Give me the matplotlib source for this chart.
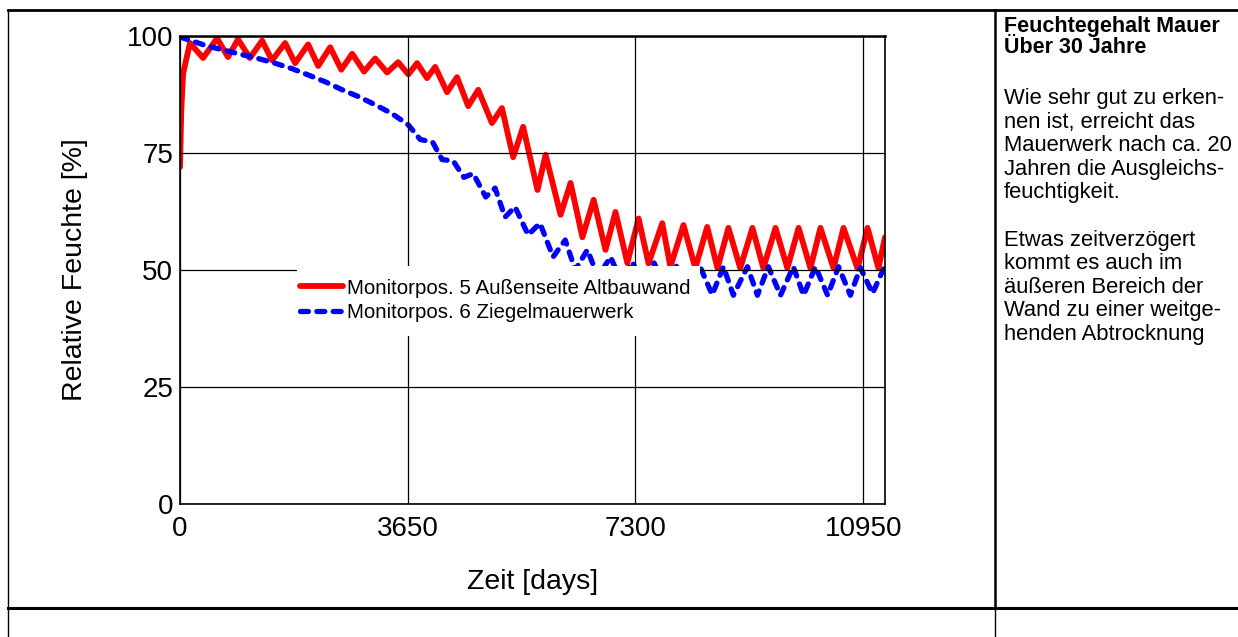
import matplotlib
matplotlib.use("Agg")
import matplotlib.pyplot as plt
from matplotlib.lines import Line2D
from matplotlib.patches import Rectangle

plt.rcParams['font.family'] = ['Liberation Sans', 'DejaVu Sans']

# Relative Feuchte [%] über die Zeit [days]
red_days = [0, 20, 50, 100, 160, 370, 594, 770, 930, 1120, 1316, 1475, 1685, 1845, 2054,
            2215, 2407, 2585, 2760, 2950, 3128, 3320, 3497, 3660, 3800,
            3960, 4090, 4280, 4440, 4620, 4780, 5000, 5160, 5340, 5500,
            5730, 5860, 6100, 6260, 6450, 6630, 6820, 6980, 7170, 7350,
            7510, 7730, 7860, 8070, 8260, 8450, 8615, 8790, 8980, 9175,
            9350, 9545, 9735, 9915, 10105, 10265, 10475, 10635, 10860, 11020,
            11195, 11300]
red_vals = [72, 84, 92, 95, 98.5, 95.3, 99.5, 95.5, 99.3, 95.3, 99, 94.8, 98.5, 94.2, 98.2,
            93.6, 97.6, 92.8, 96.2, 92.4, 95.2, 92.2, 94.4, 91.8, 94.2,
            91, 93.4, 88, 91.2, 85, 88.5, 81.4, 84.6, 74.1, 80.6,
            67.1, 74.6, 61.8, 68.6, 57, 65, 54.3, 62.4, 51.5, 61,
            51.4, 60, 50.7, 59.6, 50.4, 59.2, 50.4, 59, 50.4, 59,
            50.4, 59, 50.4, 59, 50.4, 59, 50.4, 59, 50.3, 59,
            50.4, 57]

blue_days = [0, 200, 450, 700, 1000, 1250, 1520, 1800, 2050, 2330, 2600, 2870, 3130, 3400,
             3660, 3850, 4050, 4200, 4380, 4550, 4700, 4900, 5050, 5210, 5370, 5580, 5770,
             5980, 6175, 6335, 6530, 6700, 6900, 7075, 7250, 7425, 7600, 7780, 7955, 8150,
             8340, 8530, 8710, 8870, 9095, 9255, 9430, 9625, 9830, 9995, 10185, 10380,
             10555, 10745, 10905, 11100, 11275, 11300]
blue_vals = [99.8, 98.9, 97.8, 97.0, 96.0, 95.2, 94.2, 93.0, 91.7, 90.2, 88.5, 87.0, 85.3, 83.4,
             81.0, 77.9, 77.3, 73.6, 73.3, 69.8, 70.6, 65.6, 67.5, 61.3, 63.5, 57.5, 60.0,
             52.8, 56.4, 50.0, 54.3, 48.5, 52.8, 47.5, 51.7, 46.5, 51.5, 45.8, 50.8, 45.2,
             50.6, 44.7, 50.7, 44.6, 50.7, 44.6, 50.7, 44.6, 50.7, 44.6, 50.7, 44.6,
             50.7, 44.6, 50.5, 45.0, 50.2, 50.3]

x_ticks = [0, 3650, 7300, 10950]
y_ticks = [0, 25, 50, 75, 100]
series_labels = ['Monitorpos. 5 Außenseite Altbauwand', 'Monitorpos. 6 Ziegelmauerwerk']

side_title = ['Feuchtegehalt Mauer', 'Über 30 Jahre']
side_text = ['Wie sehr gut zu erken-', 'nen ist, erreicht das', 'Mauerwerk nach ca. 20',
             'Jahren die Ausgleichs-', 'feuchtigkeit.', '',
             'Etwas zeitverzögert', 'kommt es auch im', 'äußeren Bereich der',
             'Wand zu einer weitge-', 'henden Abtrocknung']

W, H = 1238, 637
fig = plt.figure(figsize=(W / 100, H / 100), dpi=100)


def fx(px):
    return px / W


def fy(py):
    return 1 - py / H


ax = fig.add_axes([fx(180), fy(504), 705 / W, 468 / H])

ax.plot(red_days, red_vals, color='#ff0000', lw=4.2, solid_capstyle='round',
        solid_joinstyle='round', label=series_labels[0])
ax.plot(blue_days, blue_vals, color='#0000ff', lw=3.8, linestyle=(0, (1.5, 1.6)),
        dash_capstyle='round', label=series_labels[1])

ax.set_xlim(0, 11300)
ax.set_ylim(0, 100)
ax.set_xticks(x_ticks)
ax.set_yticks(y_ticks)
ax.tick_params(length=0, labelsize=20)
ax.tick_params(axis='x', pad=9)
ax.tick_params(axis='y', pad=5)
ax.grid(True, color='black', lw=0.9)
ax.set_axisbelow(False)
for s in ax.spines.values():
    s.set_linewidth(1.2)
ax.spines['top'].set_linewidth(1.8)

ax.set_xlabel('Zeit [days]', fontsize=20.5)
ax.set_ylabel('Relative Feuchte [%]', fontsize=20.5)
ax.xaxis.set_label_coords(0.5, -0.139)
ax.yaxis.set_label_coords(-0.1305, 0.5)

# weisser Kasten hinter der Legende
ax.add_patch(Rectangle((0.166, 0.359), 0.572, 0.1495, transform=ax.transAxes,
                       facecolor='white', edgecolor='none', zorder=4))
ax.legend(loc='upper left', bbox_to_anchor=(0.170, 0.4816), frameon=False, fontsize=14.8,
          handlelength=2.1, handletextpad=0.2, labelspacing=0.25, borderpad=0,
          borderaxespad=0)

# Tabellenrahmen
frame = [((8, 10), (1238, 10), 2.0), ((8, 10), (8, 637), 1.0),
         ((995, 10), (995, 608), 1.8), ((995, 608), (995, 637), 1.0),
         ((8, 608), (1238, 608), 2.2)]
for (x0, y0), (x1, y1), lw in frame:
    fig.add_artist(Line2D([fx(x0), fx(x1)], [fy(y0), fy(y1)], color='black', lw=lw,
                          transform=fig.transFigure))

for i, line in enumerate(side_title):
    fig.text(fx(1004), fy(32 + 21 * i), line, fontsize=15.5, fontweight='bold',
             va='baseline', ha='left')
for i, line in enumerate(side_text):
    if line:
        fig.text(fx(1004), fy(104 + 23.6 * i), line, fontsize=15.8,
                 va='baseline', ha='left')

fig.savefig('out.png', dpi=100)
